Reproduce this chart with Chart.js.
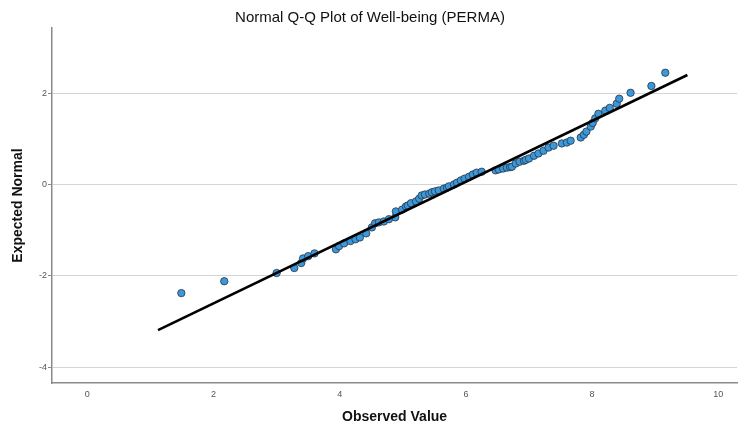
<!DOCTYPE html>
<html>
<head>
<meta charset="utf-8">
<script src="https://cdn.jsdelivr.net/npm/chart.js@4"></script>
<style>
  html, body { margin: 0; padding: 0; background: #fff; }
  canvas { display: block; }
</style>
</head>
<body>
<canvas id="qq" width="742" height="433"></canvas>
<script>
// Normal Q-Q plot of Well-being (PERMA)

const chartTitle = 'Normal Q-Q Plot of Well-being (PERMA)';
const xTitle = 'Observed Value';
const yTitle = 'Expected Normal';

// observed values and their expected normal scores
const observed = [1.49,2.17,3.00,3.28,3.39,3.42,3.50,3.60,3.94,3.99,4.07,4.17,4.25,4.32,4.42,4.51,4.56,4.62,4.70,4.78,
  4.88,4.89,4.99,5.05,5.08,5.13,5.21,5.26,5.30,5.35,5.42,5.46,5.51,5.57,5.65,5.70,5.73,5.81,5.86,5.92,
  5.98,6.05,6.11,6.17,6.25,6.47,6.52,6.59,6.65,6.70,6.73,6.79,6.85,6.92,6.95,7.00,7.08,7.15,7.23,7.31,
  7.39,7.52,7.60,7.66,7.82,7.87,7.91,7.98,8.01,8.05,8.10,8.21,8.28,8.39,8.43,8.61,8.94,9.16];
const expected = [-2.38,-2.12,-1.94,-1.83,-1.72,-1.62,-1.57,-1.51,-1.42,-1.35,-1.29,-1.24,-1.20,-1.16,-1.07,-0.94,-0.85,-0.83,-0.81,-0.76,
  -0.72,-0.59,-0.55,-0.48,-0.46,-0.41,-0.37,-0.31,-0.24,-0.22,-0.20,-0.17,-0.15,-0.13,-0.09,-0.07,-0.04,0.00,0.04,0.09,
  0.13,0.17,0.22,0.26,0.28,0.31,0.33,0.35,0.37,0.38,0.39,0.46,0.50,0.52,0.54,0.57,0.63,0.68,0.74,0.81,
  0.85,0.90,0.92,0.96,1.03,1.09,1.16,1.27,1.35,1.45,1.55,1.62,1.68,1.77,1.88,2.01,2.16,2.45];

// reference line end points
const fitX = [1.12, 9.51];
const fitY = [-3.19, 2.40];

// tick labels
const xTicks = [0, 2, 4, 6, 8, 10];
const yTicks = [-4, -2, 0, 2];

const FONT = 'Arial, "Liberation Sans", sans-serif';

const points = observed.map((v, i) => ({ x: v, y: expected[i] }));
const fitLine = fitX.map((v, i) => ({ x: v, y: fitY[i] }));

const ctx = document.getElementById('qq').getContext('2d');
new Chart(ctx, {
  type: 'scatter',
  data: {
    datasets: [
      // line first so it is drawn over the points
      { data: fitLine, showLine: true, borderColor: '#000', borderWidth: 2.6, pointRadius: 0, fill: false },
      { data: points, backgroundColor: '#3a98dc', borderColor: '#2b3440', borderWidth: 0.8, pointRadius: 3.7 }
    ]
  },
  options: {
    responsive: false,
    animation: false,
    layout: { padding: { left: 0, right: 2, top: 0, bottom: 0 } },
    plugins: {
      legend: { display: false },
      tooltip: { enabled: false },
      title: {
        display: true, text: chartTitle, color: '#111',
        font: { family: FONT, size: 15, weight: 'normal' },
        padding: { top: 9, bottom: 1 }
      }
    },
    scales: {
      x: {
        type: 'linear', min: -0.56, max: 10.3,
        afterBuildTicks: s => { s.ticks = xTicks.map(v => ({ value: v })); },
        afterFit: s => { s.height = 50; },
        grid: { display: false, drawTicks: false },
        border: { display: true, color: '#8a8a8a', width: 1.5 },
        ticks: { color: '#555', font: { family: FONT, size: 9 }, padding: 6, maxRotation: 0 },
        title: { display: true, text: xTitle, color: '#111', font: { family: FONT, size: 14, weight: 'bold' }, padding: { top: 0, bottom: 7 } }
      },
      y: {
        type: 'linear', min: -4.35, max: 3.43,
        afterBuildTicks: s => { s.ticks = yTicks.map(v => ({ value: v })); },
        afterFit: s => { s.width = 52; },
        grid: { color: '#d4d4d4', lineWidth: 1, drawTicks: true, tickLength: 4, tickColor: '#8a8a8a' },
        border: { display: true, color: '#8a8a8a', width: 1.5 },
        ticks: { color: '#555', font: { family: FONT, size: 9 }, padding: 1 },
        title: { display: true, text: yTitle, color: '#111', font: { family: FONT, size: 14, weight: 'bold' }, padding: { top: 10, bottom: 0 } }
      }
    }
  }
});
</script>
</body>
</html>
